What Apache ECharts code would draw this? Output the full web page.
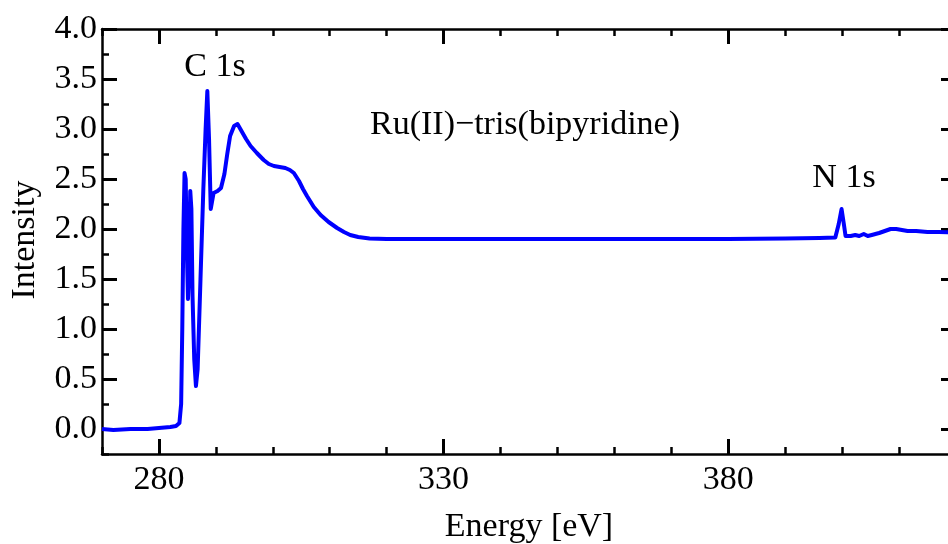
<!DOCTYPE html>
<html>
<head>
<meta charset="utf-8">
<script src="https://cdn.jsdelivr.net/npm/echarts@6/dist/echarts.min.js"></script>
<style>
html,body{margin:0;padding:0;background:#fff;overflow:hidden;width:948px;height:544px;}
#chart{width:956px;height:544px;}
</style>
</head>
<body>
<div id="chart"></div>
<script>
// Energy (eV) and intensity values
var energy = [270, 272, 275, 278, 280, 282, 283, 283.6, 283.9, 284.1, 284.3, 284.5, 284.7, 284.9, 285.1, 285.3, 285.5, 285.7, 285.9, 286.2, 286.5, 286.8, 287.3, 287.8, 288.2, 288.5, 288.8, 289.1, 289.3, 289.6, 290.3, 290.9, 291.5, 292.0, 292.5, 293.2, 293.8, 294.5, 295.3, 296.1, 297.2, 298.4, 299.3, 300.2, 301.2, 302.2, 303.0, 303.7, 304.6, 305.3, 306.0, 307.2, 308.4, 309.8, 311.3, 312.5, 313.6, 315, 317, 320, 330, 340, 350, 360, 370, 380, 390, 396, 398.8, 399.4, 399.9, 400.3, 400.6, 401.5, 402.3, 403, 403.8, 404.5, 405.2, 406.5, 407.5, 408.5, 409.5, 410.5, 411.5, 413, 415, 417, 420];
var intensity = [0.00, -0.01, 0.00, 0.00, 0.01, 0.02, 0.03, 0.06, 0.25, 1.0, 2.0, 2.56, 2.50, 1.8, 1.30, 1.6, 2.38, 2.2, 1.33, 0.7, 0.43, 0.6, 1.5, 2.4, 3.0, 3.38, 2.9, 2.2, 2.18, 2.36, 2.38, 2.41, 2.55, 2.75, 2.93, 3.03, 3.05, 2.98, 2.90, 2.83, 2.76, 2.69, 2.65, 2.63, 2.62, 2.61, 2.59, 2.56, 2.48, 2.40, 2.33, 2.22, 2.14, 2.07, 2.01, 1.97, 1.94, 1.92, 1.905, 1.90, 1.90, 1.90, 1.90, 1.90, 1.90, 1.90, 1.905, 1.91, 1.915, 2.05, 2.20, 2.05, 1.93, 1.93, 1.94, 1.93, 1.95, 1.93, 1.94, 1.96, 1.98, 2.00, 2.00, 1.99, 1.98, 1.98, 1.97, 1.97, 1.965];
var xTickValues = [280, 330, 380];
var yTickValues = [0, 0.5, 1.0, 1.5, 2.0, 2.5, 3.0, 3.5, 4.0];
var xTitle = 'Energy [eV]';
var yTitle = 'Intensity';
var annotations = [
  {text: 'C 1s', px: 215, py: 67},
  {text: 'Ru(II)\u2212tris(bipyridine)', px: 525, py: 125},
  {text: 'N 1s', px: 844, py: 178}
];

var FONT = 'Liberation Serif';
var FS = 34;
var points = energy.map(function (e, i) { return [e, intensity[i]]; });

function xAx(pos, major, withLine, labels) {
  return {
    type: 'value', position: pos, min: 270, max: 420, interval: 10,
    axisLine: {show: withLine, onZero: false, lineStyle: {color: '#000', width: 2.5}},
    axisTick: major ? {show: true, inside: true, length: 15, customValues: xTickValues, lineStyle: {color: '#000', width: 3}}
                    : {show: true, inside: true, length: 7, lineStyle: {color: '#000', width: 2.5}},
    axisLabel: labels ? {show: true, customValues: xTickValues, margin: 9, color: '#000', fontFamily: FONT, fontSize: FS} : {show: false},
    splitLine: {show: false}
  };
}
function yAx(pos, major, withLine, labels) {
  return {
    type: 'value', position: pos, min: -0.25, max: 4, interval: 0.25,
    axisLine: {show: withLine, onZero: false, lineStyle: {color: '#000', width: 2.5}},
    axisTick: major ? {show: true, inside: true, length: 15, customValues: yTickValues, lineStyle: {color: '#000', width: 3}}
                    : {show: true, inside: true, length: 7, lineStyle: {color: '#000', width: 2.5}},
    axisLabel: labels ? {show: true, customValues: yTickValues, margin: 5, color: '#000', fontFamily: FONT, fontSize: FS,
                         formatter: function (v) { return v.toFixed(1); }} : {show: false},
    splitLine: {show: false}
  };
}

var graphics = annotations.map(function (a) {
  return {type: 'text', x: a.px, y: a.py, style: {text: a.text, fill: '#000', font: FS + 'px "' + FONT + '"', align: 'center', verticalAlign: 'middle'}};
});
graphics.push({type: 'text', x: 529, y: 527, style: {text: xTitle, fill: '#000', font: FS + 'px "' + FONT + '"', align: 'center', verticalAlign: 'middle'}});
graphics.push({type: 'text', x: 25, y: 240, rotation: Math.PI / 2, style: {text: yTitle, fill: '#000', font: FS + 'px "' + FONT + '"', align: 'center', verticalAlign: 'middle'}});

var chart = echarts.init(document.getElementById('chart'), null, {renderer: 'canvas'});
chart.setOption({
  animation: false,
  backgroundColor: '#fff',
  grid: {left: 102, right: 0, top: 29, bottom: 90, containLabel: false},
  xAxis: [xAx('bottom', false, true, false), xAx('bottom', true, false, true), xAx('top', false, true, false), xAx('top', true, false, false)],
  yAxis: [yAx('left', false, true, false), yAx('left', true, false, true), yAx('right', false, true, false), yAx('right', true, false, false)],
  series: [{
    type: 'line', data: points, xAxisIndex: 0, yAxisIndex: 0,
    showSymbol: false, symbol: 'none', smooth: false,
    lineStyle: {color: '#0000ff', width: 4, join: 'round'},
    clip: true
  }],
  graphic: graphics
});
</script>
</body>
</html>
